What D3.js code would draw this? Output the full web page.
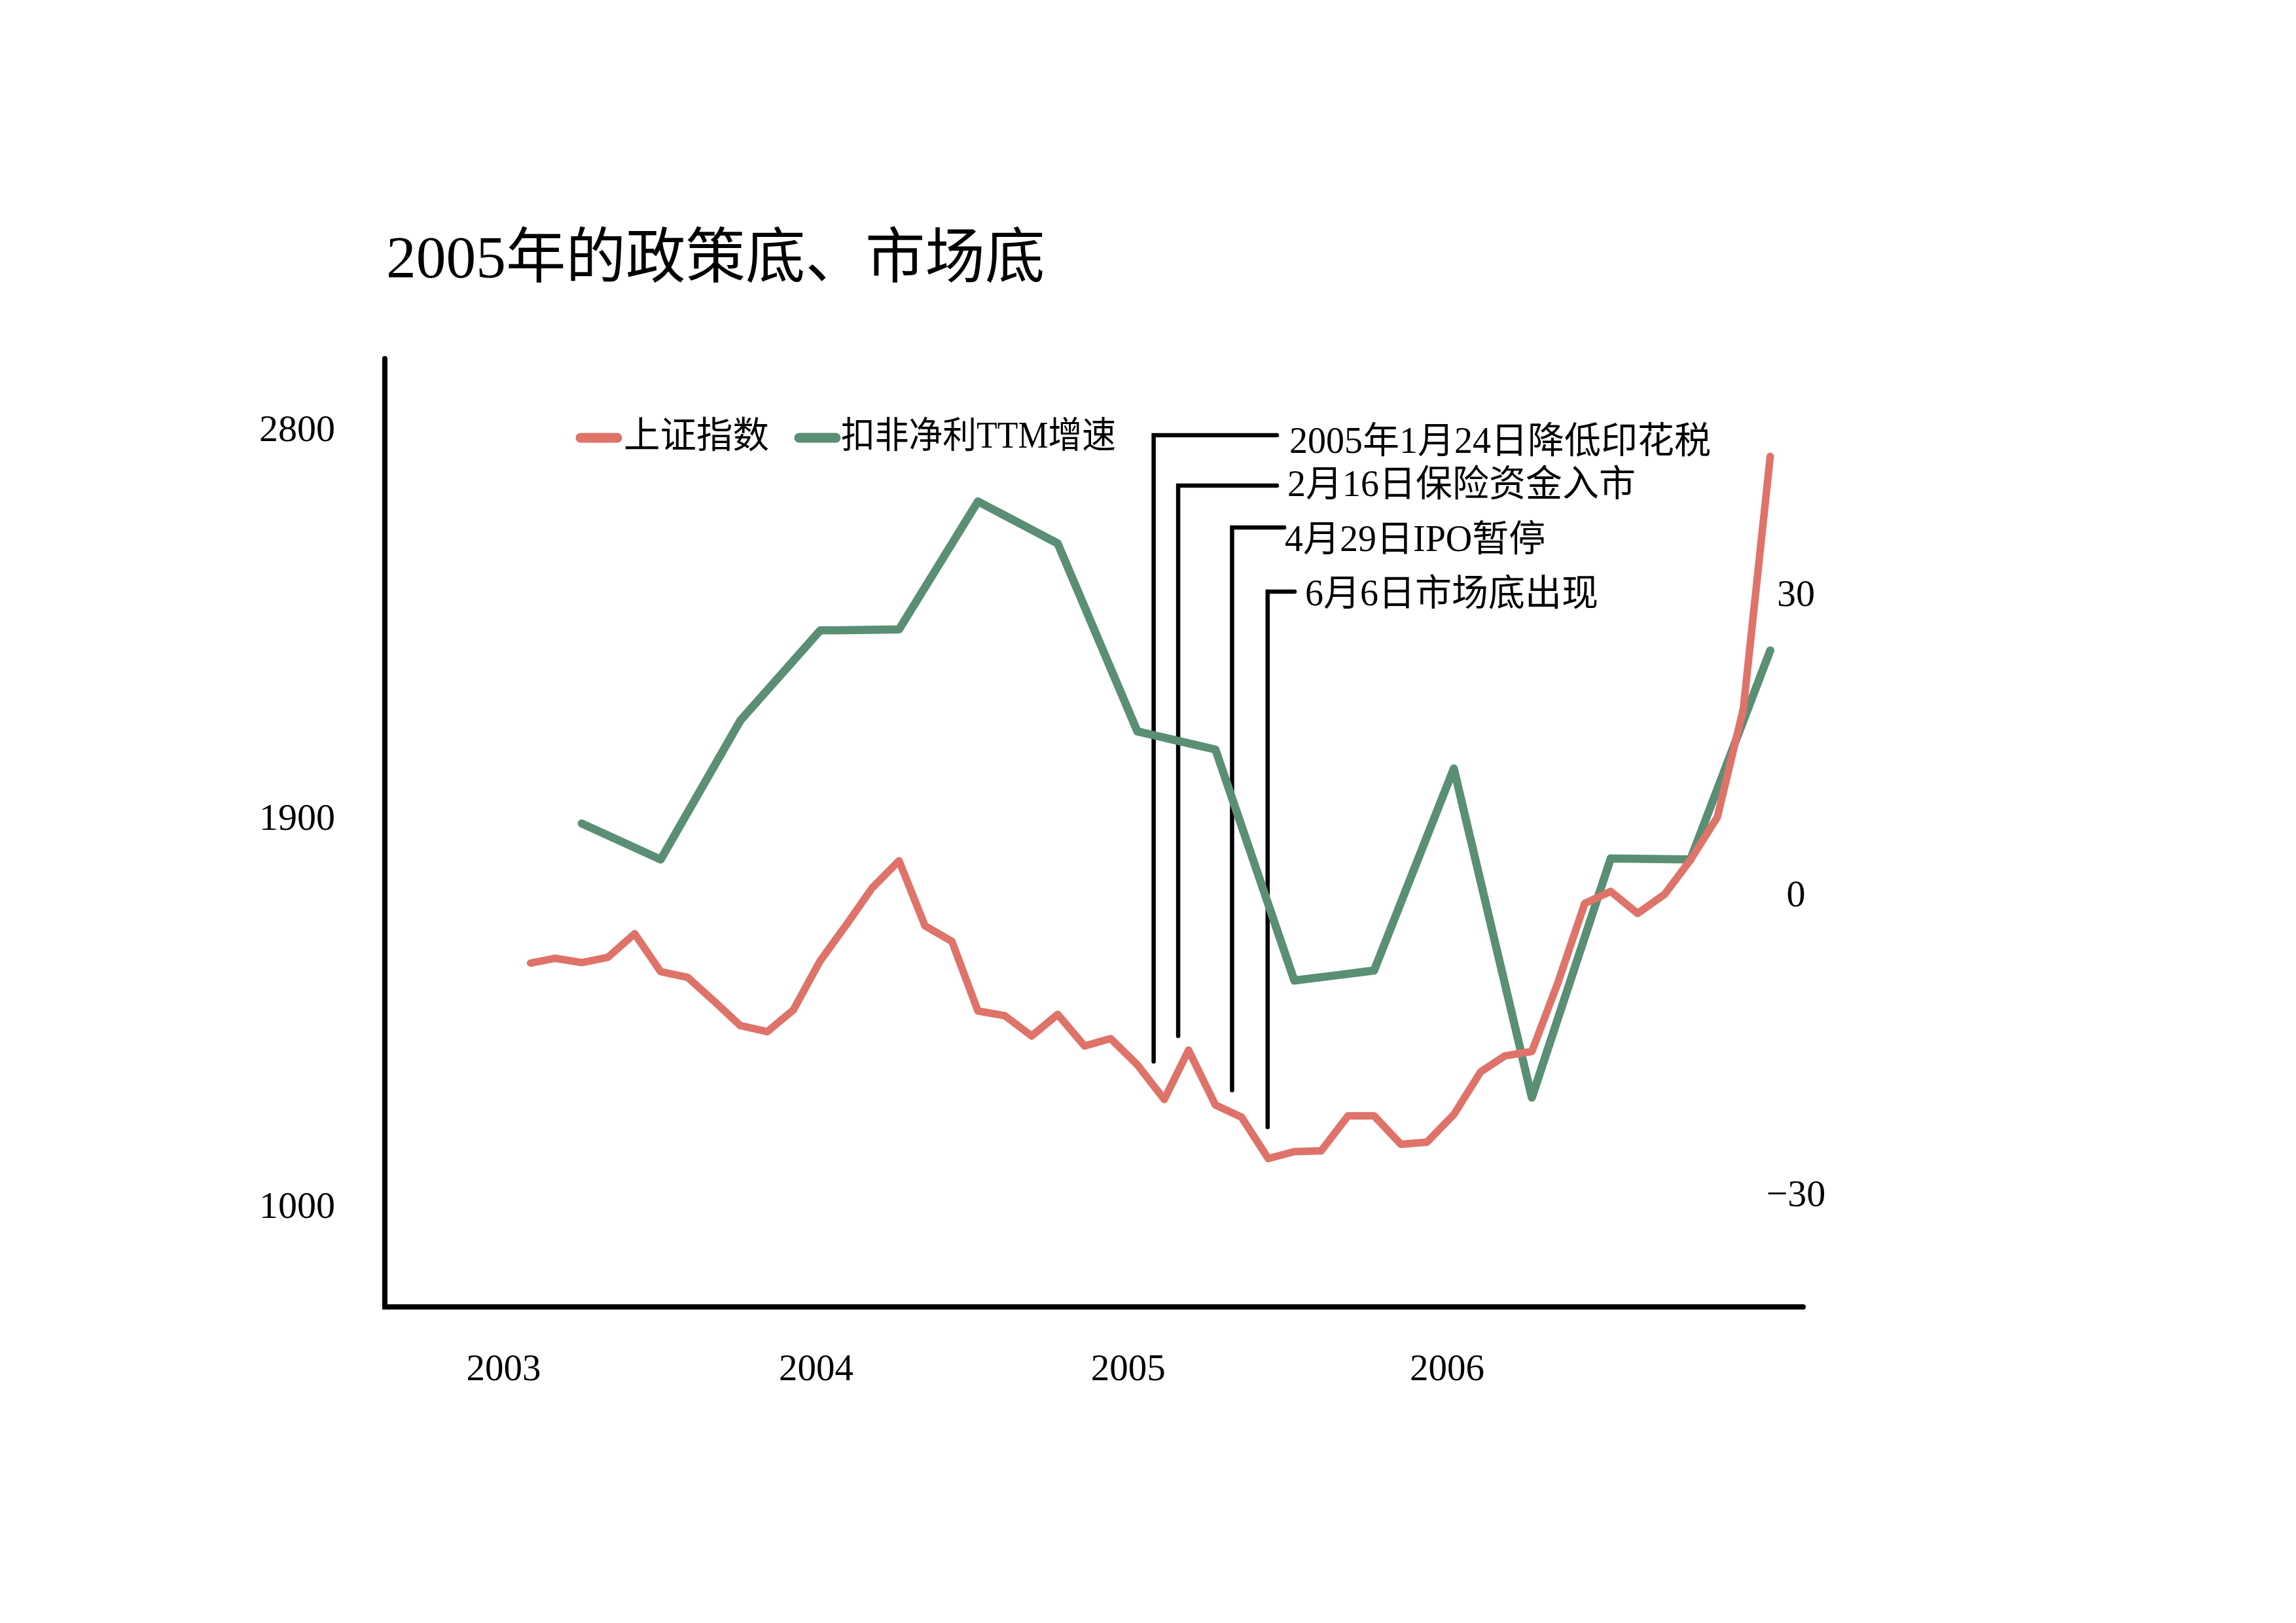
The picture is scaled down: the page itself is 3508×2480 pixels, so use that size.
<!DOCTYPE html>
<html>
<head>
<meta charset="utf-8">
<script src="https://cdn.jsdelivr.net/npm/d3@7"></script>
<style>
  html, body { margin: 0; padding: 0; background: #ffffff; }
  svg { display: block; }
</style>
</head>
<body>
<script>
// ---------------- DATA ----------------
const chartTitle = "2005年的政策底、市场底";
const seriesNames = ["上证指数", "扣非净利TTM增速"];

// monthly Shanghai Composite (left axis)
const indexMonths = [
  "2003-01","2003-02","2003-03","2003-04","2003-05","2003-06","2003-07","2003-08","2003-09","2003-10","2003-11","2003-12",
  "2004-01","2004-02","2004-03","2004-04","2004-05","2004-06","2004-07","2004-08","2004-09","2004-10","2004-11","2004-12",
  "2005-01","2005-02","2005-03","2005-04","2005-05","2005-06","2005-07","2005-08","2005-09","2005-10","2005-11","2005-12",
  "2006-01","2006-02","2006-03","2006-04","2006-05","2006-06","2006-07","2006-08","2006-09","2006-10","2006-11","2006-12"
];
const indexValues = [
  1561, 1572, 1562, 1574, 1629, 1541, 1528, 1472, 1416, 1402, 1452, 1566,
  1652, 1735, 1798, 1647, 1611, 1450, 1439, 1392, 1442, 1369, 1386, 1325,
  1245, 1359, 1232, 1204, 1108, 1124, 1126, 1207, 1207, 1141, 1146, 1210,
  1309, 1346, 1356, 1515, 1699, 1727, 1676, 1720, 1800, 1899, 2150, 2735
];

// quarterly TTM growth of net profit ex non-recurring (right axis, %)
const growthQuarters = [
  "2003Q1","2003Q2","2003Q3","2003Q4","2004Q1","2004Q2","2004Q3","2004Q4",
  "2005Q1","2005Q2","2005Q3","2005Q4","2006Q1","2006Q2","2006Q3","2006Q4"
];
const growthValues = [7.0, 3.4, 17.3, 26.3, 26.4, 39.2, 35.0, 16.2, 14.4, -8.7, -7.7, 12.5, -20.4, 3.5, 3.4, 24.3];

// axis ticks
const leftTicks = [1000, 1900, 2800];
const rightTicks = [-30, 0, 30];
const yearTicks = ["2003", "2004", "2005", "2006"];

// policy events
const eventDates = ["2005-01-24", "2005-02-16", "2005-04-29", "2005-06-06"];
const eventLabels = ["2005年1月24日降低印花税", "2月16日保险资金入市", "4月29日IPO暂停", "6月6日市场底出现"];
const eventPointerLevel = [1333, 1392, 1266, 1181]; // index level where each pointer stops

// ---------------- LAYOUT / STYLE ----------------
const W = 3508, H = 2480;
const COLORS = { index: "#DF7369", growth: "#5A8F75", ink: "#000000" };
const FONT = "'Liberation Serif', 'Noto Sans CJK SC', serif";
const frame = { left: 588, top: 548, bottom: 1997, right: 2755 };
const eventLayout = [
  { nudge: -7,  top: 665, endX: 1951, textX: 1970, baseline: 692 },
  { nudge: 0,   top: 742, endX: 1951, textX: 1967, baseline: 758 },
  { nudge: -13, top: 806, endX: 1962, textX: 1963, baseline: 842 },
  { nudge: -9,  top: 904, endX: 1978, textX: 1994, baseline: 925 }
];

// ---------------- SCALES ----------------
const monthEnd = s => { const [y, m] = s.split("-").map(Number); return new Date(y, m, 0); };
const quarterEnd = s => { const y = +s.slice(0, 4), q = +s.slice(5); return new Date(y, q * 3, 0); };
const parseDay = d3.timeParse("%Y-%m-%d");

const x = d3.scaleTime().domain([new Date(2003, 0, 1), new Date(2007, 0, 1)]).range([771, 2706]);
const yL = d3.scaleLinear().domain([1000, 2800]).range([1841.5, 654.5]);
const yR = d3.scaleLinear().domain([-30, 30]).range([1823.8, 906.8]);

const indexData = indexMonths.map((m, i) => ({ date: monthEnd(m), v: indexValues[i] }));
const growthData = growthQuarters.map((q, i) => ({ date: quarterEnd(q), v: growthValues[i] }));

// ---------------- DRAW ----------------
const svg = d3.select("body").append("svg")
  .attr("width", W).attr("height", H).attr("viewBox", `0 0 ${W} ${H}`);
svg.append("rect").attr("width", W).attr("height", H).attr("fill", "#ffffff");

// title
svg.append("text")
  .attr("x", 590).attr("y", 424)
  .attr("font-family", FONT).attr("font-size", 91.5).attr("fill", COLORS.ink)
  .text(chartTitle);

// frame (left + bottom axis lines)
svg.append("path")
  .attr("d", `M${frame.left},${frame.top}V${frame.bottom}H${frame.right}`)
  .attr("fill", "none").attr("stroke", COLORS.ink).attr("stroke-width", 8)
  .attr("stroke-linejoin", "miter").attr("stroke-linecap", "round");

// left axis labels
const gL = svg.append("g").attr("transform", `translate(${frame.left},0)`)
  .call(d3.axisLeft(yL).tickValues(leftTicks).tickSize(0).tickPadding(76).tickFormat(d3.format("d")));
gL.select(".domain").remove();
gL.selectAll("text").attr("font-family", FONT).attr("font-size", 58).attr("fill", COLORS.ink).attr("dy", "0.33em");

// right axis labels
const gR = svg.append("g").attr("transform", `translate(2744,0)`)
  .call(d3.axisRight(yR).tickValues(rightTicks).tickSize(0).tickPadding(0));
gR.select(".domain").remove();
gR.selectAll("text").attr("font-family", FONT).attr("font-size", 58).attr("fill", COLORS.ink)
  .attr("text-anchor", "middle").attr("x", 0).attr("dy", "0.33em");

// bottom axis labels (years)
const gB = svg.append("g").attr("transform", `translate(0,${frame.bottom})`)
  .call(d3.axisBottom(x).tickValues(yearTicks.map(y => new Date(+y, 0, 1)))
    .tickSize(0).tickPadding(72).tickFormat(d3.timeFormat("%Y")));
gB.select(".domain").remove();
gB.selectAll("text").attr("font-family", FONT).attr("font-size", 57).attr("fill", COLORS.ink)
  .attr("dx", (d, i) => [-2, -8, -16, -12][i]);

// event pointers
const ev = svg.append("g").selectAll("g").data(eventDates).join("g");
ev.append("path")
  .attr("d", (d, i) => {
    const ex = x(parseDay(d)) + eventLayout[i].nudge;
    return `M${ex},${yL(eventPointerLevel[i])}V${eventLayout[i].top}H${eventLayout[i].endX}`;
  })
  .attr("fill", "none").attr("stroke", COLORS.ink).attr("stroke-width", 6.5)
  .attr("stroke-linejoin", "miter").attr("stroke-linecap", "round");
ev.append("text")
  .attr("x", (d, i) => eventLayout[i].textX)
  .attr("y", (d, i) => eventLayout[i].baseline)
  .attr("font-family", FONT).attr("font-size", 56).attr("fill", COLORS.ink)
  .text((d, i) => eventLabels[i]);

// series lines
const lineIdx = d3.line().x(d => x(d.date)).y(d => yL(d.v));
const lineGr = d3.line().x(d => x(d.date)).y(d => yR(d.v));

svg.append("path").datum(growthData)
  .attr("d", lineGr).attr("fill", "none").attr("stroke", COLORS.growth)
  .attr("stroke-width", 12.5).attr("stroke-linejoin", "round").attr("stroke-linecap", "round");
svg.append("path").datum(indexData)
  .attr("d", lineIdx).attr("fill", "none").attr("stroke", COLORS.index)
  .attr("stroke-width", 11.5).attr("stroke-linejoin", "round").attr("stroke-linecap", "round");

// legend
const legendItems = [
  { name: seriesNames[0], color: COLORS.index, x0: 887, x1: 943, tx: 953, len: 222 },
  { name: seriesNames[1], color: COLORS.growth, x0: 1221, x1: 1277, tx: 1285, len: 420 }
];
const lg = svg.append("g").selectAll("g").data(legendItems).join("g");
lg.append("line")
  .attr("x1", d => d.x0).attr("x2", d => d.x1).attr("y1", 669).attr("y2", 669)
  .attr("stroke", d => d.color).attr("stroke-width", 15).attr("stroke-linecap", "round");
lg.append("text")
  .attr("x", d => d.tx).attr("y", 684)
  .attr("font-family", FONT).attr("font-size", 56).attr("fill", COLORS.ink)
  .attr("textLength", d => d.len).attr("lengthAdjust", "spacingAndGlyphs")
  .text(d => d.name);
</script>
</body>
</html>
